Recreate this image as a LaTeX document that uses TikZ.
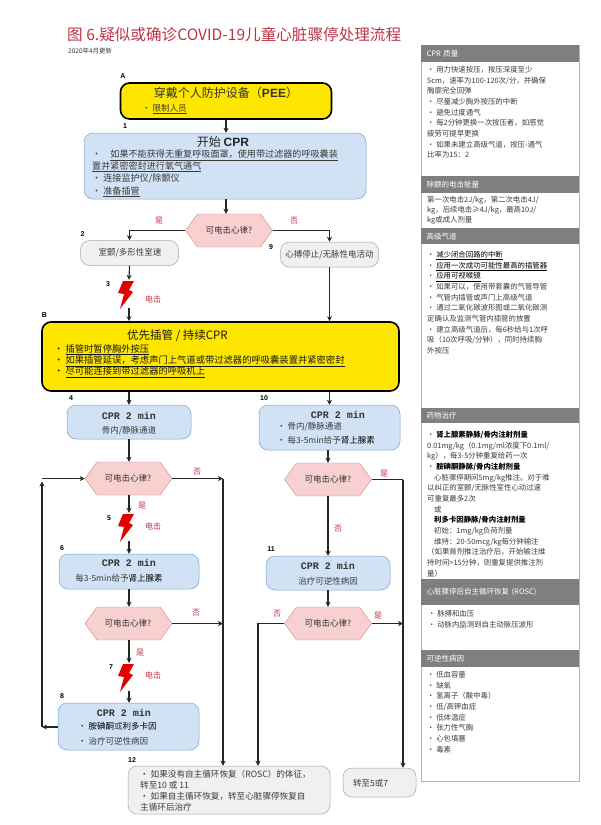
\documentclass[tikz,border=0pt]{standalone}
\usepackage{fontspec}
\setmainfont{Noto Sans CJK SC}
\setsansfont{Liberation Sans}
\setmonofont{Liberation Mono}
\usepackage{xcolor}
\definecolor{cpr_yellow}{RGB}{255, 230, 0}
\definecolor{cpr_blue}{RGB}{208, 226, 243}
\definecolor{cpr_edge}{RGB}{120, 165, 205}
\definecolor{cpr_pink}{RGB}{249, 208, 208}
\definecolor{cpr_rose}{RGB}{216, 130, 135}
\definecolor{cpr_red}{RGB}{190, 50, 70}
\definecolor{cpr_grey}{RGB}{240, 240, 240}
\definecolor{cpr_head}{RGB}{127, 127, 127}
\definecolor{cpr_text}{RGB}{60, 60, 60}
\usetikzlibrary{arrows.meta, positioning, shapes.symbols}
\newcommand{\bl}{\textbullet\ }
\newcommand{\ul}[1]{\underline{#1}}
\newcommand{\sz}[2]{\fontsize{#1}{#2}\selectfont}
\newcommand{\boltmark}[2]{%
  \node[inner sep=0pt, minimum width=18pt, minimum height=28pt] (#1) at (#2) {};
  \fill[red!90!black] ([xshift=5pt,yshift=13pt]#1.center) -- ([xshift=-6pt,yshift=13pt]#1.center)
    -- ([xshift=-11pt,yshift=1pt]#1.center) -- ([xshift=-5pt,yshift=0pt]#1.center)
    -- ([xshift=-9pt,yshift=-15pt]#1.center) -- ([xshift=4pt,yshift=2pt]#1.center)
    -- ([xshift=0pt,yshift=4pt]#1.center) -- cycle;}
\begin{document}
\begin{tikzpicture}[x=1pt, y=-1pt, font=\sz{9}{11},
    yel/.style={draw=black, line width=1.6pt, fill=cpr_yellow, rounded corners=9pt, inner sep=0pt},
    blu/.style={draw=cpr_edge, fill=cpr_blue, rounded corners=9pt, inner sep=0pt, line width=.5pt},
    gry/.style={draw=black!35, fill=cpr_grey, rounded corners=9pt, inner sep=0pt, line width=.5pt},
    hexa/.style={shape=signal, signal to=east and west, signal pointer angle=108, draw=cpr_rose,
                 fill=cpr_pink, inner sep=0pt, minimum width=87pt, minimum height=33pt, text=black!80},
    head/.style={fill=cpr_head, text=white, anchor=north west, inner sep=0pt, minimum width=158pt,
                 text width=153pt, align=left, font=\sz{7.5}{9}},
    arr/.style={-{Stealth[length=5pt,width=5pt]}, line width=1.1pt, black!85},
    num/.style={font=\sffamily\bfseries\sz{7}{8}, inner sep=0pt},
    hint/.style={text=cpr_red, inner sep=0pt, font=\sz{8}{9}},
    txt/.style={anchor=north west, align=left, inner sep=0pt, text=cpr_text},
    side/.style={txt, font=\sz{7.4}{10.65}},
    cprt/.style={font=\ttfamily\bfseries\sz{10}{11}, inner sep=0pt, text=black!80}]
  \useasboundingbox (0,0) rectangle (601,825);
  % title
  \node[anchor=west, inner sep=0pt, text=cpr_red, font=\sz{15.6}{17}] (title) at (67,35)
    {图 6.疑似或确诊COVID-19儿童心脏骤停处理流程};
  \node[anchor=west, inner sep=0pt, font=\sz{6.5}{8}, text=cpr_text] (date) at (68,51)
    {\textit{2020}年4月更新};
  % A and 1
  \node[yel, minimum width=211pt, minimum height=36pt] (ppe) at (226,101) {};
  \node[inner sep=0pt, font=\sz{12}{14}, text=black!80] (ppet) at (226,93) {穿戴个人防护设备（\textsf{\textbf{PEE}}）};
  \node[txt, anchor=west, font=\sz{8.5}{10}] (ppel) at (142,109) {\bl\ul{限制人员}};
  \node[blu, minimum width=282pt, minimum height=66pt] (start) at (225,166) {};
  \node[inner sep=0pt, font=\sz{12}{14}, text=black!85] (startt) at (223,142) {开始 \textsf{\textbf{CPR}}};
  \node[txt, font=\sz{9.1}{12}] (startl) at (92,149.5) {%
    \textbullet\quad\ul{如果不能获得无重复呼吸面罩，使用带过滤器的呼吸囊装}\\
    \ul{置并紧密密封进行氧气通气}\\
    \bl 连接监护仪/除颤仪\\[1pt]
    \bl\ul{准备插管}};
  \node[hexa] (q1) at (229,230.5) {};
  \node[inner sep=0pt, font=\sz{8.5}{10}, text=black!80] (q1t) at (229,230.5) {可电击心律?};
  \node[gry, minimum width=98pt, minimum height=25pt] (vf) at (129.5,253) {};
  \node[inner sep=0pt, font=\sz{8.5}{10}, text=cpr_text] (vft) at (130,253) {室颤/多形性室速};
  \node[gry, minimum width=98pt, minimum height=25pt] (pea) at (329.5,254.5) {};
  \node[inner sep=0pt, font=\sz{8.5}{10}, text=cpr_text] (peat) at (329.5,254.5) {心搏停止/无脉性电活动};
  \boltmark{shock1}{129,294}
  % B
  \node[yel, minimum width=357pt, minimum height=69pt] (intub) at (220.5,356.5) {};
  \node[anchor=west, inner sep=0pt, font=\sz{11.5}{13}, text=black!90] (intubt) at (127,336) {优先插管 / 持续CPR};
  \node[txt, anchor=north west, font=\sz{9.3}{11.4}, text=black!90] (intubl) at (54,344) {%
    \bl\ul{插管时暂停胸外按压}\\
    \bl\ul{如果插管延误，考虑声门上气道或带过滤器的呼吸囊装置并紧密密封}\\
    \bl\ul{尽可能连接到带过滤器的呼吸机上}};
  % left column
  \node[blu, minimum width=124pt, minimum height=34pt] (cpr4) at (129,422) {};
  \node[cprt] (cpr4a) at (129,416) {CPR 2 min};
  \node[inner sep=0pt, font=\sz{8.5}{10}, text=cpr_text] (cpr4b) at (129,431) {骨内/静脉通道};
  \node[hexa] (q2) at (128.5,478.5) {};
  \node[inner sep=0pt, font=\sz{8.5}{10}, text=black!80] (q2t) at (128,478.5) {可电击心律?};
  \boltmark{shock2}{129,527}
  \node[blu, minimum width=140pt, minimum height=35pt] (cpr6) at (129,571.5) {};
  \node[cprt] (cpr6a) at (129,563) {CPR 2 min};
  \node[inner sep=0pt, font=\sz{8.5}{10}, text=cpr_text] (cpr6b) at (119,578) {每3-5min给予\textcolor{black}{肾上腺素}};
  \node[hexa] (q3) at (128.5,623.5) {};
  \node[inner sep=0pt, font=\sz{8.5}{10}, text=black!80] (q3t) at (128,623.5) {可电击心律?};
  \boltmark{shock3}{129,677}
  \node[blu, minimum width=141pt, minimum height=47pt] (cpr8) at (128.5,726.5) {};
  \node[cprt] (cpr8a) at (124,713) {CPR 2 min};
  \node[txt, font=\sz{8.5}{15}] (cpr8b) at (78,722) {\bl\textcolor{black}{胺碘酮}或\textcolor{black}{利多卡因}\\\bl 治疗可逆性病因};
  % right column
  \node[blu, minimum width=141pt, minimum height=45pt] (cpr10) at (329.5,427.5) {};
  \node[cprt] (cpr10a) at (338,415) {CPR 2 min};
  \node[txt, font=\sz{8.5}{14.5}] (cpr10b) at (277,422) {\bl 骨内/静脉通道\\\bl 每3-5min给予\textcolor{black}{肾上腺素}};
  \node[hexa] (q4) at (328,479.5) {};
  \node[inner sep=0pt, font=\sz{8.5}{10}, text=black!80] (q4t) at (328,479.5) {可电击心律?};
  \node[blu, minimum width=124pt, minimum height=34pt] (cpr11) at (328,573) {};
  \node[cprt] (cpr11a) at (328,566) {CPR 2 min};
  \node[inner sep=0pt, font=\sz{8.5}{10}, text=cpr_text] (cpr11b) at (328,581) {治疗可逆性病因};
  \node[hexa] (q5) at (328,623.5) {};
  \node[inner sep=0pt, font=\sz{8.5}{10}, text=black!80] (q5t) at (328,623.5) {可电击心律?};
  % end boxes
  \node[gry, minimum width=202pt, minimum height=48pt] (rosc) at (229,790) {};
  \node[txt, font=\sz{8.6}{11.1}] (roscl) at (140,770) {%
    \bl 如果没有自主循环恢复（ROSC）的体征，\\
    转至10 或 11\\
    \bl 如果自主循环恢复，转至心脏骤停恢复自\\
    主循环后治疗};
  \node[gry, minimum width=73pt, minimum height=29pt] (goto) at (379.5,782.5) {};
  \node[anchor=west, inner sep=0pt, font=\sz{8.5}{10}, text=cpr_text] (gotot) at (353,783) {转至5或7};
  % joints on the long lines
  \coordinate (loop) at (42,727);
  \coordinate (loopt) at (42,478.5);
  \coordinate (noa) at (223,478.5);
  \coordinate (nob) at (223,623.5);
  \coordinate (yesa) at (403,479.5);
  \coordinate (yesb) at (403,623.5);
  \coordinate (noc) at (258,623.5);
  % connectors
  \draw[arr] (ppe.south -| 226,0) -- (start.north -| 226,0);
  \draw[arr] (start.south -| 226,0) -- (q1.north -| 226,0);
  \draw[arr] (q1.west) -| (vf.north);
  \draw[arr] (q1.east) -| (pea.north);
  \draw[arr] (vf.south) -- (shock1.north);
  \draw[arr] (shock1.south) -- (intub.north -| shock1);
  \draw[arr] (pea.south) -- (intub.north -| pea);
  \draw[arr] (intub.south -| cpr4) -- (cpr4.north);
  \draw[arr] (intub.south -| pea) -- (cpr10.north -| pea);
  \draw[arr] (cpr4.south) -- (q2.north -| cpr4);
  \draw[arr] (q2.south -| cpr4) -- (shock2.north);
  \draw[arr] (shock2.south) -- (cpr6.north);
  \draw[arr] (cpr6.south) -- (q3.north -| cpr6);
  \draw[arr] (q3.south -| cpr6) -- (shock3.north);
  \draw[arr] (shock3.south) -- (cpr8.north -| shock3);
  \draw[arr] (cpr8.west |- loop) -- (loop);
  \draw[arr] (loop) -- ([yshift=-3pt]loopt);
  \draw[arr] (loopt) -- (q2.west);
  \draw[arr] (q2.east) -- (noa);
  \draw[arr] (noa) -- (rosc.north -| noa);
  \draw[arr] (q3.east) -- (nob);
  \draw[arr] (cpr10.south -| q4) -- (q4.north);
  \draw[line width=1.1pt, black!85] (q4.east) -- (yesa);
  \draw[arr] (yesa) -- (goto.north -| yesa);
  \draw[arr] (q4.south) -- (cpr11.north);
  \draw[arr] (cpr11.south) -- (q5.north);
  \draw[arr] (q5.east) -- (yesb);
  \draw[arr] (q5.west) -- (noc) -- (rosc.north -| noc);
  % step numbers
  \node[num] (lA) at (123,76) {A};
  \node[num] (l1) at (125,126.5) {1};
  \node[num] (l2) at (82.5,234) {2};
  \node[num] (l9) at (271,247.5) {9};
  \node[num] (l3) at (108,284.5) {3};
  \node[num] (lB) at (44.5,315) {B};
  \node[num] (l4) at (71,398) {4};
  \node[num] (l10) at (264,398.5) {10};
  \node[num] (l5) at (109,518) {5};
  \node[num] (l6) at (62,548) {6};
  \node[num] (l11) at (271,549) {11};
  \node[num] (l7) at (111,667) {7};
  \node[num] (l8) at (62,696) {8};
  \node[num] (l12) at (132,760) {12};
  % yes, no, shock
  \node[hint] (y1) at (159,221) {是};
  \node[hint] (n1) at (294,221) {否};
  \node[hint] (s1) at (153,299) {电击};
  \node[hint] (n2) at (197,472) {否};
  \node[hint] (y2) at (142,506) {是};
  \node[hint] (s2) at (153,526) {电击};
  \node[hint] (y4) at (384,474) {是};
  \node[hint] (n4) at (338,529) {否};
  \node[hint] (n3) at (196,613) {否};
  \node[hint] (y3) at (140,653) {是};
  \node[hint] (s3) at (153,675) {电击};
  \node[hint] (n5) at (277,614) {否};
  \node[hint] (y5) at (378,616) {是};
  % side panel
  \node[anchor=north west, draw=black!30, line width=.8pt, fill=white, inner sep=0pt,
        minimum width=158pt, minimum height=736pt] (panel) at (421,45) {};
  \node[head, minimum height=17pt] (h1) at (421,45) {\hspace{3pt}CPR 质量};
  \node[side] (b1) at (427,66) {%
    \bl 用力快速按压，按压深度至少\\
    5cm，速率为100-120次/分，并确保\\
    胸廓完全回弹\\
    \bl 尽量减少胸外按压的中断\\
    \bl 避免过度通气\\
    \bl 每2分钟更换一次按压者，如感觉\\
    疲劳可提早更换\\
    \bl 如果未建立高级气道，按压-通气\\
    比率为15：2};
  \node[head, minimum height=17pt] (h2) at (421,176) {\hspace{3pt}除颤的电击能量};
  \node[side, font=\sz{7.4}{10}] (b2) at (427,196.5) {%
    第一次电击2J/kg，第二次电击4J/\\
    kg，后续电击≥4J/kg，最高10J/\\
    kg或成人剂量};
  \node[head, minimum height=16pt] (h3) at (421,228) {\hspace{3pt}高级气道};
  \node[side] (b3) at (427,251) {%
    \bl\textcolor{black}{\ul{减少闭合回路的中断}}\\
    \bl\textcolor{black}{\ul{应用一次成功可能性最高的插管器}}\\
    \bl\textcolor{black}{\ul{应用可视喉镜}}\\
    \bl 如果可以，使用带套囊的气管导管\\
    \bl 气管内插管或声门上高级气道\\
    \bl 通过二氧化碳波形图或二氧化碳测\\
    定确认及监测气管内插管的放置\\
    \bl 建立高级气道后，每6秒给与1次呼\\
    吸（10次呼吸/分钟），同时持续胸\\
    外按压};
  \node[head, minimum height=15pt] (h4) at (421,408) {\hspace{3pt}药物治疗};
  \node[side] (b4) at (427,431) {%
    \bl\textcolor{black}{\textbf{肾上腺素静脉/骨内注射剂量}}\\
    0.01mg/kg（0.1mg/ml浓度下0.1ml/\\
    kg），每3-5分钟重复给药一次\\
    \bl\textcolor{black}{\textbf{胺碘酮静脉/骨内注射剂量}}\\
    \hspace*{7pt}心脏骤停期间5mg/kg推注。对于难\\
    以纠正的室颤/无脉性室性心动过速\\
    可重复最多2次\\
    \hspace*{7pt}或\\
    \hspace*{7pt}\textcolor{black}{\textbf{利多卡因静脉/骨内注射剂量}}\\
    \hspace*{7pt}初始：1mg/kg负荷剂量\\
    \hspace*{7pt}维持：20-50mcg/kg每分钟输注\\
    （如果首剂推注治疗后，开始输注维\\
    持时间>15分钟，则重复提供推注剂\\
    量）};
  \node[head, minimum height=26pt] (h5) at (421,579) {\hspace{3pt}心脏骤停后自主循环恢复 (ROSC)};
  \node[side] (b5) at (428,610) {%
    \bl 脉搏和血压\\
    \bl 动脉内监测到自主动脉压波形};
  \node[head, minimum height=17pt] (h6) at (421,650) {\hspace{3pt}可逆性病因};
  \node[side] (b6) at (427,671) {%
    \bl 低血容量\\
    \bl 缺氧\\
    \bl 氢离子（酸中毒）\\
    \bl 低/高钾血症\\
    \bl 低体温症\\
    \bl 张力性气胸\\
    \bl 心包填塞\\
    \bl 毒素};
\end{tikzpicture}
\end{document}
